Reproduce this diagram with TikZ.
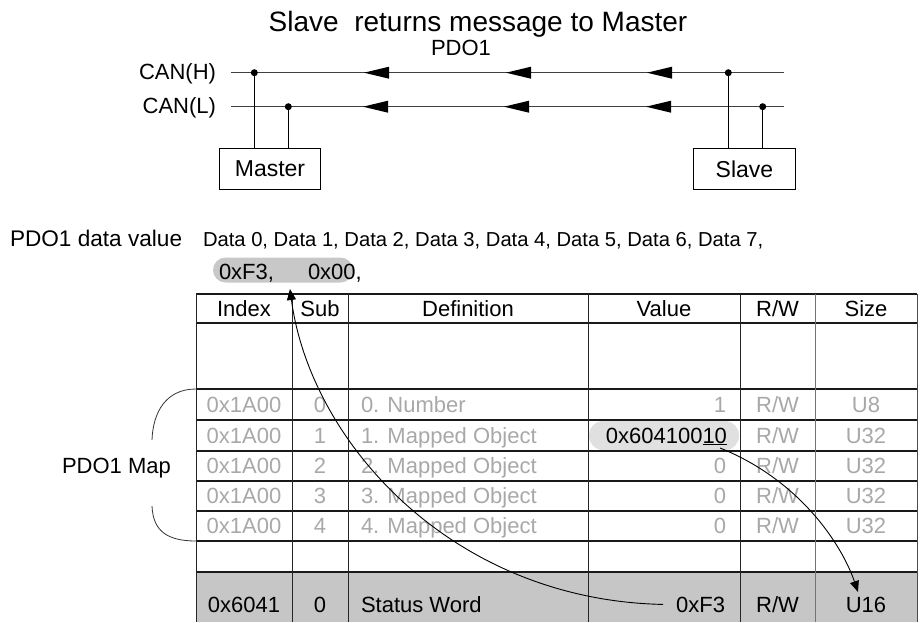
\documentclass[tikz,border=0pt]{standalone}
\usepackage{fontspec}
\setmainfont{Liberation Sans}
\usetikzlibrary{arrows.meta}
\definecolor{dimtxt}{HTML}{A8A8A8}
\definecolor{rowgray}{HTML}{C6C6C6}
\definecolor{pillA}{HTML}{C8C8C8}
\definecolor{pillB}{HTML}{E0E0E0}
\begin{document}
\begin{tikzpicture}[x=1pt,y=-1pt,
  every node/.style={inner sep=0pt, outer sep=0pt},
  t22/.style={font=\fontsize{22}{26}\selectfont, anchor=base},
  dim/.style={t22, text=dimtxt},
  hline/.style={line width=1.6pt, draw=black!90},
  vline/.style={line width=1pt, draw=black!85},
  bus/.style={line width=1.3pt, draw=black!75},
  wire/.style={line width=1pt, draw=black},
  dot/.style={circle, fill=black, minimum size=7pt, inner sep=0pt},
  box/.style={draw=black, line width=1pt, fill=white, font=\fontsize{23}{26}\selectfont},
  curve/.style={line width=0.9pt, -{Triangle[length=11pt,width=9pt]}},
  bracket/.style={line width=0.8pt, draw=black!80},
]
\useasboundingbox (0,0) rectangle (921,622);

% ---------- top: bus ----------
\node[t22, font=\fontsize{28}{32}\selectfont] (title) at (478,31) {Slave\ \ returns message to Master};
\node[t22] (pdo) at (461,55) {PDO1};
\node[t22, anchor=base east] (canh) at (216,79.5) {CAN(H)};
\node[t22, anchor=base east] (canl) at (216,113.5) {CAN(L)};

\coordinate (hL) at (231,72.7);
\coordinate (hR) at (784,72.7);
\coordinate (lL) at (231,106.7);
\coordinate (lR) at (784,106.7);
\draw[bus] (hL) -- (hR);
\draw[bus] (lL) -- (lR);

\foreach \x in {364,506,647} \fill (\x,72.7) -- ++(25,-6) -- ++(0,12) -- cycle;
\foreach \x in {363,504,646} \fill (\x,106.7) -- ++(25,-6) -- ++(0,12) -- cycle;

\node[box, minimum width=101.4pt, minimum height=41pt] (master) at (270,168.8) {Master};
\node[box, minimum width=102.4pt, minimum height=41pt] (slave) at (744.5,168.8) {Slave};

\node[dot] (mh) at (254.3,72.7) {};
\node[dot] (ml) at (288.3,106.7) {};
\node[dot] (sh) at (728.3,72.7) {};
\node[dot] (sl) at (762.7,106.7) {};
\draw[wire] (mh) -- (mh |- master.north);
\draw[wire] (ml) -- (ml |- master.north);
\draw[wire] (sh) -- (sh |- slave.north);
\draw[wire] (sl) -- (sl |- slave.north);

% ---------- data value ----------
\node[t22, font=\fontsize{22.6}{26}\selectfont, anchor=base west] (pdv) at (10,246) {PDO1 data value};
\node[t22, font=\fontsize{20.2}{24}\selectfont, anchor=base west] (dline) at (203,246)
  {Data 0, Data 1, Data 2, Data 3, Data 4, Data 5, Data 6, Data 7,};
\node[fill=pillA, rounded corners=12.5pt, minimum width=140pt, minimum height=25pt] (dpill) at (283,270) {};
\node[t22, anchor=base west] (f3) at (219,279) {0xF3,};
\node[t22, anchor=base west] (x00) at (308,279) {0x00};
\node[t22, anchor=base west] (comma) at (x00.base east) {,};

% ---------- table ----------
\fill[rowgray] (196,572) rectangle (917,622);
\node[fill=pillB, rounded corners=14pt, minimum width=150pt, minimum height=29pt] (vpill) at (664,435.5) {};
\foreach \y in {294,323,389,420,451,481,511,541,572} \draw[hline] (196,\y) -- (917,\y);
\foreach \x in {196,292,348,588,740} \draw[vline] (\x,294) -- (\x,622);
\draw[vline, draw=black!55] (815,294) -- (815,622);
\draw[vline, draw=black!70] (917,294) -- (917,622);

% header
\node[t22] (hidx) at (244,316.5) {Index};
\node[t22] (hsub) at (320,316.5) {Sub};
\node[t22] (hdef) at (468,316.5) {Definition};
\node[t22] (hval) at (664,316.5) {Value};
\node[t22] (hrw) at (777.5,316.5) {R/W};
\node[t22] (hsz) at (866,316.5) {Size};

% map rows
\foreach \i/\b/\d/\v/\s in {0/412/0. Number/1/U8, 1/443/1. Mapped Object//U32, 2/473.5/2. Mapped Object/0/U32, 3/503.5/3. Mapped Object/0/U32, 4/533.5/4. Mapped Object/0/U32} {
  \node[dim] (idx\i) at (244,\b) {0x1A00};
  \node[dim] (sub\i) at (320,\b) {\i};
  \node[dim, anchor=base west] (def\i) at (361,\b) {\d};
  \node[dim, anchor=base east] (val\i) at (726,\b) {\v};
  \node[dim] (rw\i) at (777.5,\b) {R/W};
  \node[dim] (sz\i) at (866,\b) {\s};
}
\node[t22, anchor=base east] (mapobj) at (727,443) {0x604100\underline{10}};

% status row
\node[t22] (sidx) at (244,612) {0x6041};
\node[t22] (ssub) at (320,612) {0};
\node[t22, anchor=base west] (sdef) at (361,612) {Status Word};
\node[t22, anchor=base east] (sval) at (725,612) {0xF3};
\node[t22] (srw) at (777.5,612) {R/W};
\node[t22] (ssz) at (866,612) {U16};

% PDO1 Map bracket
\draw[bracket] (196,389) .. controls (166,389) and (153,412) .. (152,440);
\draw[bracket] (152,506) .. controls (153,530) and (166,541) .. (196,541);
\node[t22, anchor=base west] (pmap) at (62,473) {PDO1 Map};

% connectors
\coordinate (ustart) at (720,448);
\coordinate (u16tip) at (858,592);
\draw[curve] (ustart) .. controls (800,480) and (842,545) .. (u16tip);
\coordinate (f3tip) at (290,289);
\draw[curve] ([xshift=-13pt]sval.west) .. controls (450,600) and (310,440) .. (f3tip);
\end{tikzpicture}
\end{document}
